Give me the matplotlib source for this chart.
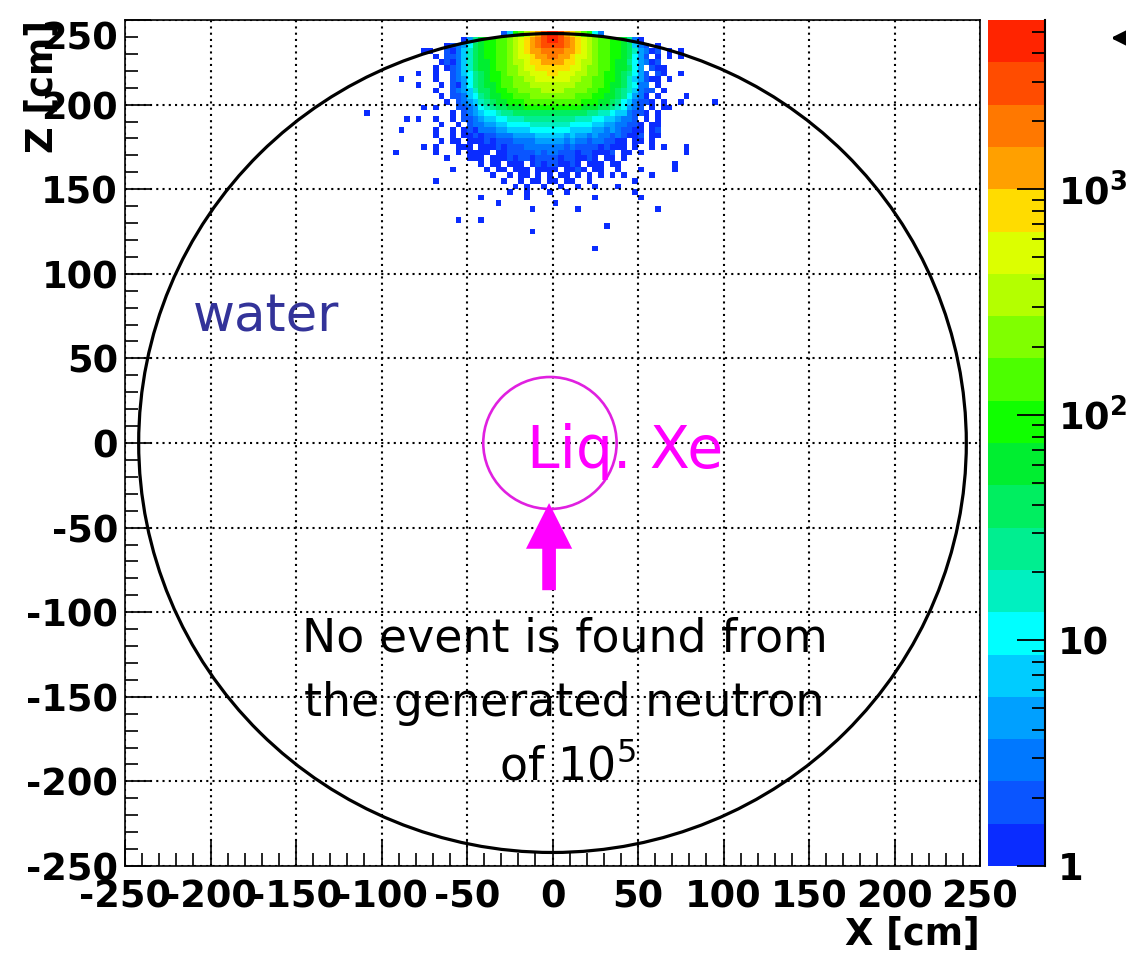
import numpy as np
import matplotlib
matplotlib.use('Agg')
import matplotlib.pyplot as plt
from matplotlib.colors import ListedColormap, LogNorm
from matplotlib.patches import Circle, FancyArrow, FancyArrowPatch
from matplotlib.ticker import MultipleLocator, FuncFormatter

plt.rcParams['font.family'] = ['DejaVu Sans']
plt.rcParams['axes.unicode_minus'] = False
plt.rcParams['mathtext.fontset'] = 'dejavusans'

# ---------------- data ----------------
X_RANGE = (-250.0, 250.0)
Z_RANGE = (-250.0, 250.0)
N_BINS = 150
Z_MAX = 5623.0

# dense core of the 2D histogram: one string per z-bin row (top row = bin 147),
# one char per x-bin starting at bin 53; char = colour band (0 = empty, 1..9, a..k = 10..20)
CORE_TOP_ROW = 147
CORE_FIRST_COL = 53
CORE_ROWS = [
    "000000000000025bceghjk" + "kjhgecb630000000000000" + "0",
    "000000148abbccdefghijk" + "kjihgfedccbba831000000" + "0",
    "000123469abbccdefghijj" + "jjihgfedccbba953201000" + "0",
    "100213579abbccdefghhii" + "iihhgfedccbba974312010" + "0",
    "010223579abbccdeffghhi" + "ihhgffedccbba964201010" + "1",
    "001213579aabccdeefgghh" + "hhggfeedccbaa864312000" + "0",
    "010123579aabccddeffggg" + "gggffeddccbaa964021100" + "0",
    "0100235689abbcddeefffg" + "gfffeeddcbba9864202100" + "0",
    "0100234689abbccddeefff" + "fffeeddccbba9754211010" + "0",
    "0010214689aabccdddeeee" + "eeeedddccbaa9763301000" + "0",
    "01002345799abbccddddee" + "eeddddccbba98753220100" + "0",
    "00102235689aabbcccdddd" + "ddddcccbbaa98643101000" + "0",
    "000102345789aabbbccccc" + "cccccbbbaa986532210100" + "0",
    "01000223467899aaabbbbb" + "bbbbbaaa99876432010110" + "0",
    "0000102345667889999999" + "9999998877655322101000" + "0",
    "0100102234556677788888" + "8888777665543320101000" + "0",
    "0010010233445566667777" + "7776666554433221011000" + "0",
    "0100101213334455556666" + "6665555443432211012000" + "0",
    "0100101121223334444555" + "5545443433232112011000" + "0",
    "0010110111212223333444" + "4434332332211011010000" + "0",
    "0100011101112122233333" + "3323222212111010010100" + "0",
    "0100010111101122222323" + "3222122111201101000000" + "0",
    "0001000111011121221222" + "2122112101101000000000" + "0",
    "0000000001011011101212" + "2112101110110000000001" + "0",
    "0000100000101101110111" + "1011210110010001000001" + "0",
    "0000000000010010110101" + "0110101010101000010000" + "0",
    "0100000000000100101101" + "1011001000000010000000" + "0",
    "0000000000000001010010" + "0100100100010000000000" + "0",
    "0000000000000010010001" + "0010000000000010000000" + "0",
    "0000000001000000010000" + "0000000100000001000000" + "0",
]
# representative bin content of each colour band
LEVEL_COUNTS = [0, 1, 2, 3, 4, 7, 11, 17, 25, 40, 60, 95, 145, 220, 340,
                520, 800, 1250, 1900, 2900, 4600]

# isolated single-entry bins outside the core (x, z in cm)
SPARSE_X = [-108, -92, -88, -88, -85, -78, -78, -78, -75, -75, -74, -55, -40,
            -32, -12, -12, 2, 15, 25, 32, 62, 76, 76, 76, 79, 79, 79, 95]
SPARSE_Z = [195, 171, 215, 185, 191, 219, 212, 191, 199, 175, 231, 131, 131,
            142, 138, 125, 142, 139, 115, 128, 138, 231, 219, 202, 205, 176, 173, 202]

PALETTE = ['#0a2cff', '#0a55ff', '#0078ff', '#00a0ff', '#00ccff',
           '#00ffff', '#00f0c0', '#00ee90', '#00ee60', '#00ee30',
           '#10ff00', '#4cff00', '#80ff00', '#b4ff00', '#dcff00',
           '#ffdc00', '#ffa000', '#ff7800', '#ff4c00', '#ff2400']

CBAR_TICKS = [1, 10, 100, 1000]
CBAR_LABELS = ['1', '10', r'$\mathbf{10^{2}}$', r'$\mathbf{10^{3}}$']

OUTER_R = 242.0
INNER_CENTER = (-1.5, 0.0)
INNER_R = 39.0

# ---------------- build histogram ----------------
bw = (X_RANGE[1] - X_RANGE[0]) / N_BINS
H = np.zeros((N_BINS, N_BINS))
for r, row in enumerate(CORE_ROWS):
    assert len(row) == 45, (r, len(row))
    j = CORE_TOP_ROW - r
    for s, ch in enumerate(row):
        H[j, CORE_FIRST_COL + s] = LEVEL_COUNTS[int(ch, 36)]
for x, z in zip(SPARSE_X, SPARSE_Z):
    k = int((x - X_RANGE[0]) // bw)
    j = int((z - Z_RANGE[0]) // bw)
    H[j, k] += 1

edges_x = np.linspace(X_RANGE[0], X_RANGE[1], N_BINS + 1)
edges_z = np.linspace(Z_RANGE[0], Z_RANGE[1], N_BINS + 1)
Hm = np.ma.masked_equal(H, 0)

# ---------------- figure ----------------
W, Hpx = 1126, 956
fig = plt.figure(figsize=(W / 100, Hpx / 100), dpi=100)
ax = fig.add_axes([125 / W, 1 - 866 / Hpx, 855 / W, 846 / Hpx])
cax = fig.add_axes([988 / W, 1 - 866 / Hpx, 57 / W, 846 / Hpx])

cmap = ListedColormap(PALETTE)
norm = LogNorm(vmin=1, vmax=Z_MAX)
mesh = ax.pcolormesh(edges_x, edges_z, Hm, cmap=cmap, norm=norm,
                     shading='flat', antialiased=False, edgecolors='none', zorder=1)

ax.set_xlim(*X_RANGE)
ax.set_ylim(*Z_RANGE)

# circles
ax.add_patch(Circle((0, 0), OUTER_R, fill=False, edgecolor='black', lw=2.3, zorder=3))
ax.add_patch(Circle(INNER_CENTER, INNER_R, fill=False, edgecolor='#e020e0', lw=1.9, zorder=3))

# arrow
ax.add_patch(FancyArrow(-2, -87, 0, 51.5, width=8, head_width=27, head_length=27,
                        length_includes_head=True, color='#ff00ff', lw=0, zorder=4))

# grid & ticks
ax.xaxis.set_major_locator(MultipleLocator(50))
ax.yaxis.set_major_locator(MultipleLocator(50))
ax.xaxis.set_minor_locator(MultipleLocator(10))
ax.yaxis.set_minor_locator(MultipleLocator(10))
ax.yaxis.set_major_formatter(FuncFormatter(lambda v, p: '' if v >= 249 else f'{v:.0f}'))
ax.set_axisbelow(False)
ax.grid(True, which='major', color='black', linestyle=(0, (1, 2)), linewidth=1.5)
ax.tick_params(axis='both', which='major', direction='in', length=19, width=1.2,
               top=False, right=False, labelsize=26.5, colors='black')
ax.tick_params(axis='both', which='minor', direction='in', length=9.5, width=1.2,
               top=False, right=False)
ax.tick_params(axis='x', which='major', pad=9)
ax.tick_params(axis='y', which='major', pad=5)
for lab in ax.get_xticklabels() + ax.get_yticklabels():
    lab.set_fontweight('bold')
for sp in ax.spines.values():
    sp.set_linewidth(1.2)
    sp.set_color('black')
# top y label sits a little below its tick in the reference
ax.annotate('250', xy=(0, 1), xycoords='axes fraction', xytext=(-5, -11),
            textcoords='offset points', ha='right', va='center_baseline',
            fontsize=26.5, fontweight='bold')

# texts
ax.text(-210.5, 66, 'water', color='#333399', fontsize=37, ha='left', va='baseline', zorder=5)
ax.text(-15, -14.8, 'Liq. Xe', color='#ff00ff', fontsize=42, ha='left', va='baseline', zorder=5)
ax.text(7, -123.5, 'No event is found from', color='black', fontsize=33,
        ha='center', va='baseline', zorder=5)
ax.text(7, -161.3, 'the generated neutron', color='black', fontsize=33,
        ha='center', va='baseline', zorder=5)
ax.text(9, -199.2, r'of 10$^{5}$', color='black', fontsize=33,
        ha='center', va='baseline', zorder=5)

fig.text(980 / W, 1 - 935 / Hpx, 'X [cm]', fontsize=26.5, fontweight='bold',
         ha='right', va='center')
fig.text(42 / W, 1 - 20 / Hpx, 'Z [cm]', fontsize=26.5, fontweight='bold',
         ha='center', va='top', rotation=90)

# colour bar
cb = fig.colorbar(mesh, cax=cax)
cb.outline.set_visible(False)
cb.set_ticks(CBAR_TICKS)
cb.set_ticklabels(CBAR_LABELS)
minor = [m * 10 ** e for e in range(4) for m in range(2, 10) if m * 10 ** e < Z_MAX]
cb.set_ticks(minor, minor=True)
cax.tick_params(which='major', direction='in', length=20, width=1.3, right=True, left=False,
                labelright=True, labelleft=False, labelsize=26.5, pad=9.5)
cax.tick_params(which='minor', direction='in', length=9.5, width=1.3, right=True, left=False)
for lab in cax.get_yticklabels():
    lab.set_fontweight('bold')
cax.plot([1, 1], [0, 1], transform=cax.transAxes, color='black', lw=1.5, clip_on=False)

# small arrow head at the top right edge
fig.add_artist(FancyArrowPatch((1.01, 1 - 38 / Hpx), (1108 / W, 1 - 38 / Hpx),
                               transform=fig.transFigure, arrowstyle='-|>',
                               mutation_scale=28, color='black', lw=2.5))

fig.savefig('out.png', dpi=100)
